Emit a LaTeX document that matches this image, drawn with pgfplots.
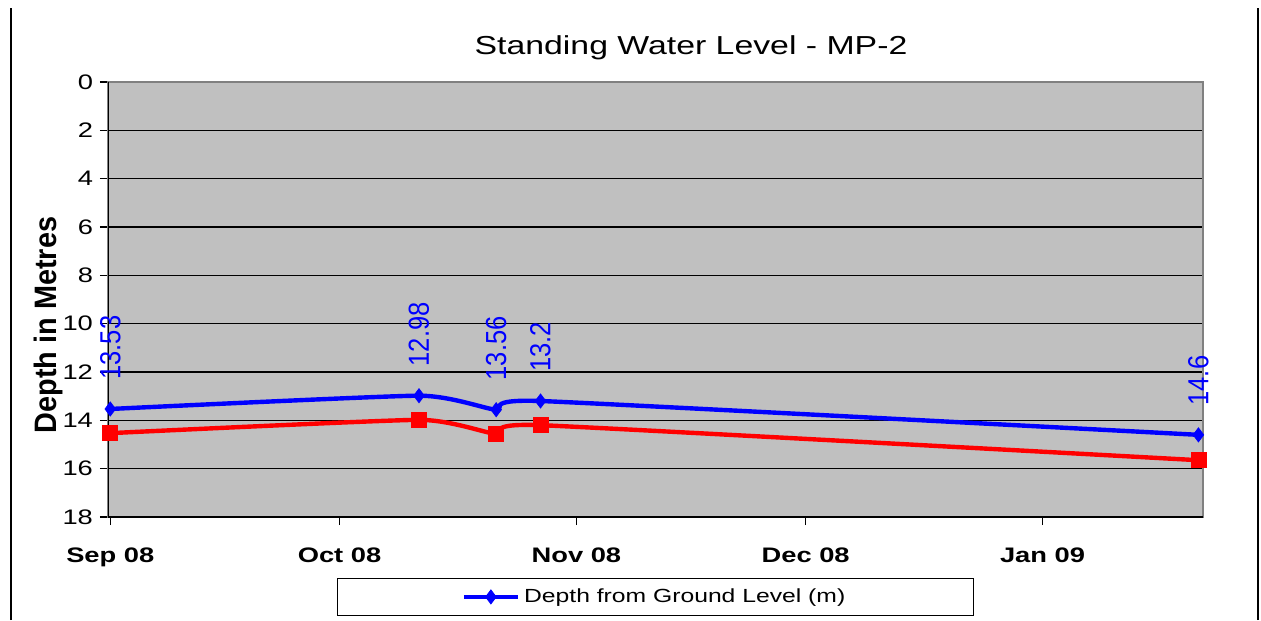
\documentclass[border=0pt]{standalone}
\usepackage{fontspec}
\setmainfont{Liberation Sans}[FakeStretch=1.3]
\newfontfamily\rotfont{Liberation Sans}[FakeStretch=0.88]
\newfontfamily\ylabfont{Liberation Sans}[FakeStretch=0.93]
\usepackage{pgfplots}
\pgfplotsset{compat=1.18}
\definecolor{plotbg}{HTML}{C0C0C0}
\definecolor{frame}{HTML}{808080}
\begin{document}
\begin{tikzpicture}
\useasboundingbox (-54pt,-51.5pt) rectangle (576.5pt,258.5pt);
\begin{axis}[
  scale only axis, width=547.5pt, height=217.5pt,
  xmin=-0.3, xmax=143, ymin=0, ymax=18, y dir=reverse,
  ytick={0,2,...,18},
  xtick={0,30,61,91,122},
  xticklabels={Sep 08,Oct 08,Nov 08,Dec 08,Jan 09},
  axis background/.style={fill=plotbg},
  ymajorgrids, grid style={black, line width=0.6pt},
  axis line style={draw=frame, line width=1pt},
  tick align=outside, major tick length=4pt,
  tick style={black, line width=0.6pt},
  xtick pos=bottom, ytick pos=left,
  /pgf/number format/assume math mode=true,
  yticklabel style={font=\fontsize{10.5}{12}\selectfont},
  xticklabel style={font=\fontsize{10.5}{12}\selectfont\bfseries, yshift=-8pt},
  legend style={at={(axis description cs:0.5,-0.14)}, anchor=north,
    draw=black, fill=white, font=\fontsize{9.5}{11}\selectfont,
    inner xsep=62pt, inner ysep=3pt, line width=0.6pt},
  legend image code/.code={\draw[mark repeat=2,mark phase=2,#1] plot coordinates {(0pt,0pt) (13.5pt,0pt) (27pt,0pt)};},
]
\addplot[red, line width=2.2pt, smooth, tension=0.3, mark=square*, mark size=3.75pt,
  mark options={line width=0.4pt}, forget plot]
  coordinates {(0,14.53) (40.4,13.98) (50.5,14.56) (56.3,14.2) (142.4,15.65)};
\addplot[blue, line width=2.2pt, smooth, tension=0.3, mark=diamond*, mark size=3.5pt,
  mark options={line width=0.4pt},
  point meta=explicit symbolic, nodes near coords,
  every node near coord/.append style={rotate=90, anchor=west, inner xsep=14.5pt, inner ysep=0pt,
    font=\rotfont\fontsize{14.5}{16}\selectfont, text=blue}]
  coordinates {(0,13.53) [13.53] (40.4,12.98) [12.98] (50.5,13.56) [13.56] (56.3,13.2) [13.2] (142.4,14.6) [14.6]};
\addlegendentry{Depth from Ground Level (m)}
\draw[black, line width=1pt] (axis cs:-0.3,0) -- (axis cs:-0.3,18) -- (axis cs:143,18);
\end{axis}
\node[font=\fontsize{13}{15}\selectfont] at (291.5pt,234.5pt) {Standing Water Level - MP-2};
\node[rotate=90, font=\ylabfont\bfseries\fontsize{15.5}{18}\selectfont] at (-29.75pt,96pt) {Depth in Metres};
\draw[black, line width=1pt] (-48.5pt,-51.5pt) -- (-48.5pt,254.5pt);
\draw[black, line width=1pt] (575pt,-51.5pt) -- (575pt,254.5pt);
\end{tikzpicture}
\end{document}
